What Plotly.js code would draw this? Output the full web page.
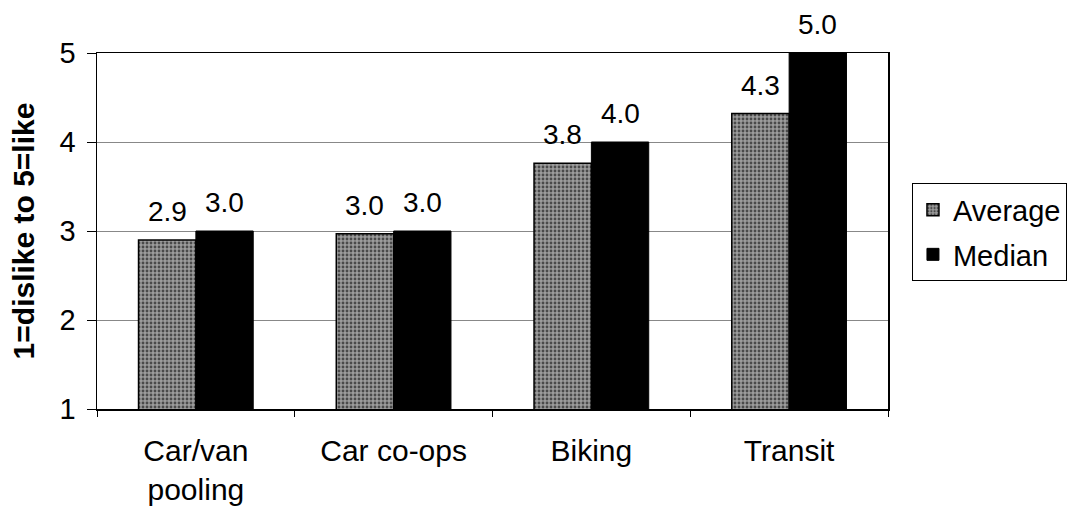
<!DOCTYPE html>
<html>
<head>
<meta charset="utf-8">
<script src="https://cdn.plot.ly/plotly-3.0.1.min.js"></script>
<style>html,body{margin:0;padding:0;background:#fff;}#chart{width:1071px;height:506px;}</style>
</head>
<body>
<div id="chart"></div>
<script>
const categories = ["Car/van<br>pooling", "Car co-ops", "Biking", "Transit"];
const averageValues = [2.9, 2.97, 3.76, 4.32];
const medianValues = [3.0, 3.0, 4.0, 5.0];
const yTickValues = [1, 2, 3, 4, 5];
const seriesNames = ["Average", "Median"];

const font = "Arial, 'Liberation Sans', sans-serif";

const traces = [
  {
    type: "bar",
    name: seriesNames[0],
    legendgroup: "avg",
    x: categories,
    y: averageValues,
    cliponaxis: false,
    marker: {
      color: "#8c8c8c",
      line: {color: "#000", width: 1.5},
      pattern: {shape: ".", fgcolor: "#4a4a4a", bgcolor: "#9c9c9c", size: 4, solidity: 0.4}
    }
  },
  {
    type: "bar",
    name: seriesNames[1],
    legendgroup: "med",
    x: categories,
    y: medianValues,
    cliponaxis: false,
    marker: {color: "#000", line: {color: "#000", width: 1}}
  }
];

const bargap = 0.42;
const plotW = 1071 - 97 - 183;
const slot = plotW / categories.length;
const barOffset = slot * (1 - bargap) / 4;

const annotations = [];
categories.forEach((c, i) => {
  [[averageValues, -1], [medianValues, 1]].forEach(([arr, side]) => {
    annotations.push({
      x: c, y: arr[i], xref: "x", yref: "y",
      text: arr[i].toFixed(1),
      showarrow: false,
      xanchor: "center", yanchor: "bottom",
      xshift: side * barOffset, yshift: 11,
      font: {family: font, size: 28, color: "#000"}
    });
  });
});

const layout = {
  width: 1071,
  height: 506,
  margin: {l: 97, r: 183, t: 53, b: 97, autoexpand: false},
  paper_bgcolor: "#fff",
  plot_bgcolor: "#fff",
  font: {family: font, color: "#000"},
  barmode: "group",
  bargap: bargap,
  bargroupgap: 0,
  showlegend: true,
  legend: {
    x: 1.0303, y: 0.634, xanchor: "left", yanchor: "top",
    font: {family: font, size: 29, color: "#000"},
    bordercolor: "#000", borderwidth: 1, bgcolor: "#fff",
    tracegroupgap: 4
  },
  annotations: annotations,
  xaxis: {
    tickfont: {family: font, size: 30, color: "#000"},
    showline: true, linecolor: "#000", linewidth: 1.5,
    mirror: true,
    ticks: "outside", tickson: "boundaries", ticklen: 6, tickcolor: "#000",
    ticklabelstandoff: 14,
    showgrid: false,
    fixedrange: true
  },
  yaxis: {
    range: [1, 5],
    tickvals: yTickValues,
    ticktext: yTickValues.map(String),
    tickfont: {family: font, size: 29, color: "#000"},
    showline: true, linecolor: "#000", linewidth: 1.5,
    mirror: true,
    ticks: "outside", ticklen: 9, tickcolor: "#000",
    ticklabelstandoff: 5,
    showgrid: true, gridcolor: "#888", gridwidth: 1,
    zeroline: false,
    title: {text: "1=dislike to 5=like", font: {family: font, size: 30, color: "#000", weight: "bold"}, standoff: 16},
    fixedrange: true
  }
};

Plotly.newPlot("chart", traces, layout, {displayModeBar: false, staticPlot: true});
</script>
</body>
</html>
